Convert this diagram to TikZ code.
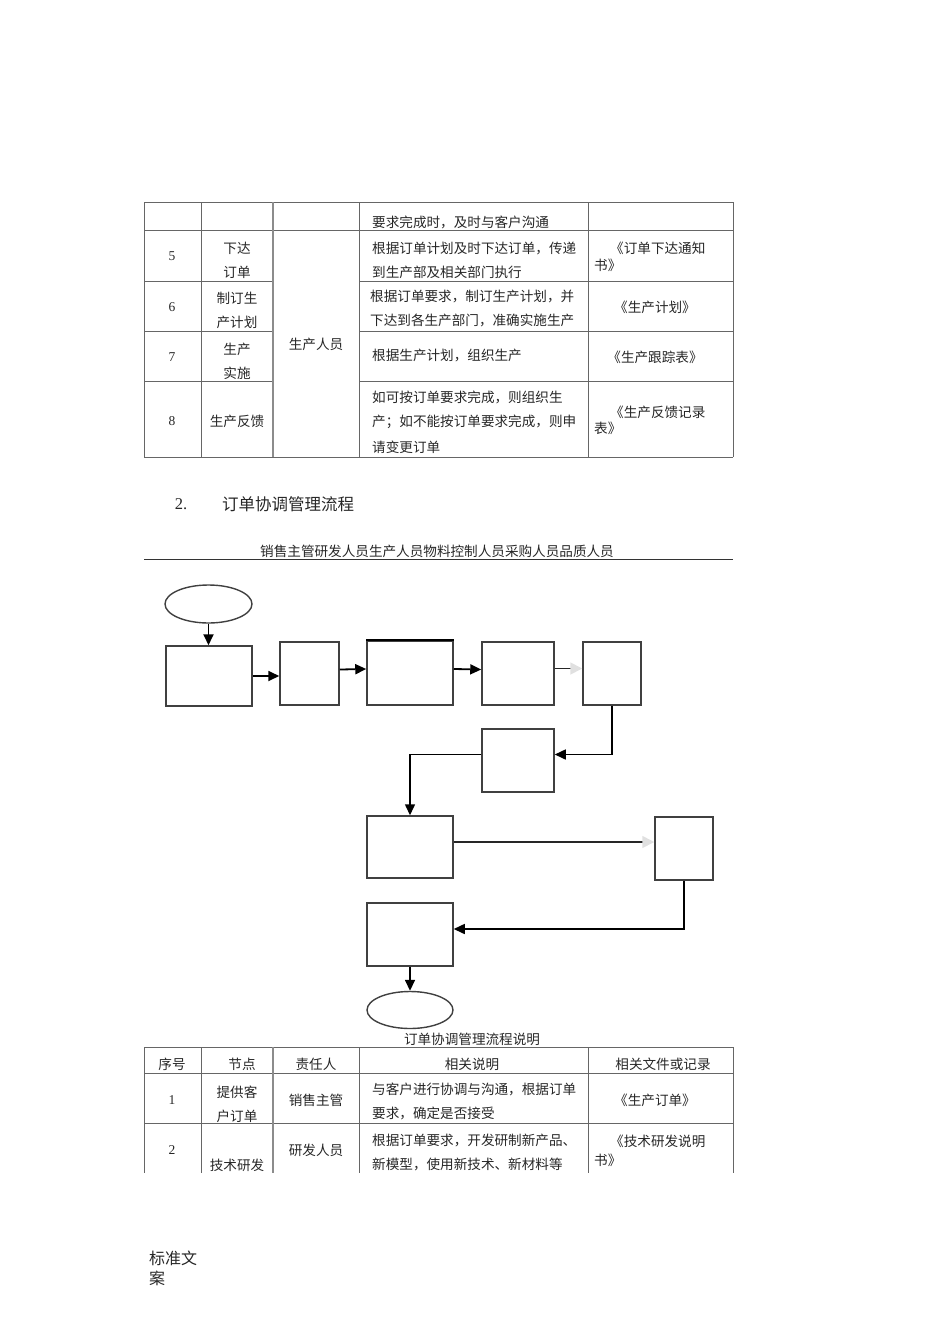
\documentclass[tikz,border=0pt]{standalone}
\usepackage{fontspec}
\setmainfont{Liberation Serif}
\newfontfamily\cjk{Noto Sans CJK SC}
\usetikzlibrary{arrows.meta,shapes.geometric,calc}
\tikzset{
  txt/.style={font=\cjk\fontsize{13.6}{16}\selectfont, inner sep=0pt, text=black!85},
  ttl/.style={font=\cjk\fontsize{16.5}{20}\selectfont, inner sep=0pt, text=black!85},
  foot/.style={font=\cjk\fontsize{16}{19}\selectfont, inner sep=0pt, text=black!85},
  num/.style={font=\fontsize{13.5}{16}\selectfont, inner sep=0pt, text=black!85},
  grid/.style={draw=black!60, line width=0.9pt},
  box/.style={draw=black!75, line width=1.5pt, rectangle, inner sep=0pt},
  oval/.style={draw=black!75, line width=1.4pt, ellipse, inner sep=0pt},
  arr/.style={draw=black, line width=1.8pt, -{Triangle[length=11pt,width=10pt]}},
  fade/.style={draw=black!85, line width=1.8pt, -{Triangle[length=12pt,width=12pt,color=black!12]}}
}
\begin{document}
\begin{tikzpicture}[x=1pt,y=-1pt]
\useasboundingbox (0,0) rectangle (950,1344);

% ---------- top table ----------
\draw[grid] (144,202) -- (733,202);
\draw[grid] (144,230) -- (733,230);
\foreach \yy in {281,331,381}{
  \draw[grid] (144,\yy) -- (273,\yy);
  \draw[grid] (359,\yy) -- (733,\yy);
}
\draw[grid] (144,457) -- (733,457);
\foreach \xx in {144,201,359,588,733}{
  \draw[grid] (\xx,202) -- (\xx,457);
}
\draw[grid, draw=black!45, line width=1.3pt] (273,202) -- (273,457);

\node[txt, anchor=west] (t0d) at (372,222) {要求完成时，及时与客户沟通};

\node[num] (t5n) at (172,256) {5};
\node[txt] (t5a) at (237,248) {下达};
\node[txt] (t5b) at (237,272) {订单};
\node[txt] (tres) at (316,344) {生产人员};
\node[txt, anchor=west] (t5d1) at (372,248) {根据订单计划及时下达订单，传递};
\node[txt, anchor=west] (t5d2) at (372,272) {到生产部及相关部门执行};
\node[txt, anchor=west] (t5f1) at (610,248) {《订单下达通知};
\node[txt, anchor=west] (t5f2) at (594,265) {书》};

\node[num] (t6n) at (172,307) {6};
\node[txt] (t6a) at (237,298) {制订生};
\node[txt] (t6b) at (237,322) {产计划};
\node[txt, anchor=west] (t6d1) at (370,296) {根据订单要求，制订生产计划，并};
\node[txt, anchor=west] (t6d2) at (370,320) {下达到各生产部门，准确实施生产};
\node[txt] (t6f) at (655,307) {《生产计划》};

\node[num] (t7n) at (172,357) {7};
\node[txt] (t7a) at (237,349) {生产};
\node[txt] (t7b) at (237,373) {实施};
\node[txt, anchor=west] (t7d) at (372,356) {根据生产计划，组织生产};
\node[txt] (t7f) at (655,357) {《生产跟踪表》};

\node[num] (t8n) at (172,421) {8};
\node[txt] (t8a) at (237,421) {生产反馈};
\node[txt, anchor=west] (t8d1) at (372,397) {如可按订单要求完成，则组织生};
\node[txt, anchor=west] (t8d2) at (372,422) {产；如不能按订单要求完成，则申};
\node[txt, anchor=west] (t8d3) at (372,447) {请变更订单};
\node[txt, anchor=west] (t8f1) at (610,412) {《生产反馈记录};
\node[txt, anchor=west] (t8f2) at (594,428) {表》};

% ---------- section title ----------
\node[font=\fontsize{16.5}{20}\selectfont, inner sep=0pt, text=black!85] (secn) at (181,504) {2.};
\node[ttl, anchor=west] (sect) at (222,504) {订单协调管理流程};

% ---------- lanes ----------
\node[txt] (lanes) at (437,551) {销售主管研发人员生产人员物料控制人员采购人员品质人员};
\draw[draw=black!80, line width=1pt] (144,559) -- (733,559);

% ---------- flowchart ----------
\node[oval, minimum width=87pt, minimum height=38pt] (start) at (208.5,604) {};
\node[box, minimum width=86pt, minimum height=60pt] (b1) at (209,676) {};
\node[box, minimum width=59pt, minimum height=63pt] (b2) at (309.5,673.5) {};
\node[box, minimum width=86pt, minimum height=64pt] (b3) at (410,673) {};
\draw[draw=black, line width=2.4pt] (b3.north west) -- (b3.north east);
\node[box, minimum width=72pt, minimum height=63pt] (b4) at (518,673.5) {};
\node[box, minimum width=58pt, minimum height=63pt] (b5) at (612,673.5) {};
\node[box, minimum width=72pt, minimum height=63pt] (b6) at (518,760.5) {};
\node[box, minimum width=86pt, minimum height=62pt] (b7) at (410,847) {};
\node[box, minimum width=58pt, minimum height=63pt] (b8) at (684,848.5) {};
\node[box, minimum width=86pt, minimum height=63pt] (b9) at (410,934.5) {};
\node[oval, minimum width=86pt, minimum height=37pt] (end) at (410,1010) {};

\draw[arr] (start.south) -- (start.south |- b1.north);
\draw[arr] (b1.east) -- (b1.east -| b2.west);
\draw[arr] ($(b2.east)+(0,-4)$) -- ($(b3.west)+(0,-4)$);
\draw[arr] ($(b3.east)+(0,-4)$) -- ($(b4.west)+(0,-4)$);
\draw[fade] ($(b4.east)+(0,-5)$) -- ($(b5.west)+(0,-5)$);
\draw[arr, line width=1.5pt] (b5.south) |- ($(b6.east)+(0,-6)$);
\draw[arr, line width=1.5pt] ($(b6.west)+(0,-6)$) -| (b7.north);
\draw[fade, line width=1.7pt] ($(b7.east)+(0,-5)$) -- ($(b8.west)+(0,-6.5)$);
\draw[arr, line width=1.5pt] (b8.south) |- ($(b9.east)+(0,-5.5)$);
\draw[arr, line width=1.5pt] (b9.south) -- (end.north);

% ---------- bottom table ----------
\node[txt] (btitle) at (472,1039) {订单协调管理流程说明};
\draw[grid] (144,1047) -- (733,1047);
\draw[grid] (144,1073) -- (733,1073);
\draw[grid] (144,1123) -- (733,1123);
\foreach \xx in {144,201,359,588,733}{
  \draw[grid] (\xx,1047) -- (\xx,1173);
}
\draw[grid, draw=black!45, line width=1.3pt] (273,1047) -- (273,1173);

\node[txt] (h1) at (172,1064) {序号};
\node[txt] (h2) at (242,1064) {节点};
\node[txt] (h3) at (316,1064) {责任人};
\node[txt] (h4) at (472,1064) {相关说明};
\node[txt] (h5) at (663,1064) {相关文件或记录};

\node[num] (r1n) at (172,1100) {1};
\node[txt] (r1a) at (237,1092) {提供客};
\node[txt] (r1b) at (237,1116) {户订单};
\node[txt] (r1r) at (316,1100) {销售主管};
\node[txt, anchor=west] (r1d1) at (372,1089) {与客户进行协调与沟通，根据订单};
\node[txt, anchor=west] (r1d2) at (372,1113) {要求，确定是否接受};
\node[txt] (r1f) at (655,1100) {《生产订单》};

\node[num] (r2n) at (172,1150) {2};
\node[txt] (r2a) at (237,1165) {技术研发};
\node[txt] (r2r) at (316,1150) {研发人员};
\node[txt, anchor=west] (r2d1) at (372,1140) {根据订单要求，开发研制新产品、};
\node[txt, anchor=west] (r2d2) at (372,1164) {新模型，使用新技术、新材料等};
\node[txt, anchor=west] (r2f1) at (610,1141) {《技术研发说明};
\node[txt, anchor=west] (r2f2) at (594,1160) {书》};

% ---------- footer ----------
\node[foot, anchor=west] (ft1) at (149,1258) {标准文};
\node[foot, anchor=west] (ft2) at (149,1278) {案};
\end{tikzpicture}
\end{document}
